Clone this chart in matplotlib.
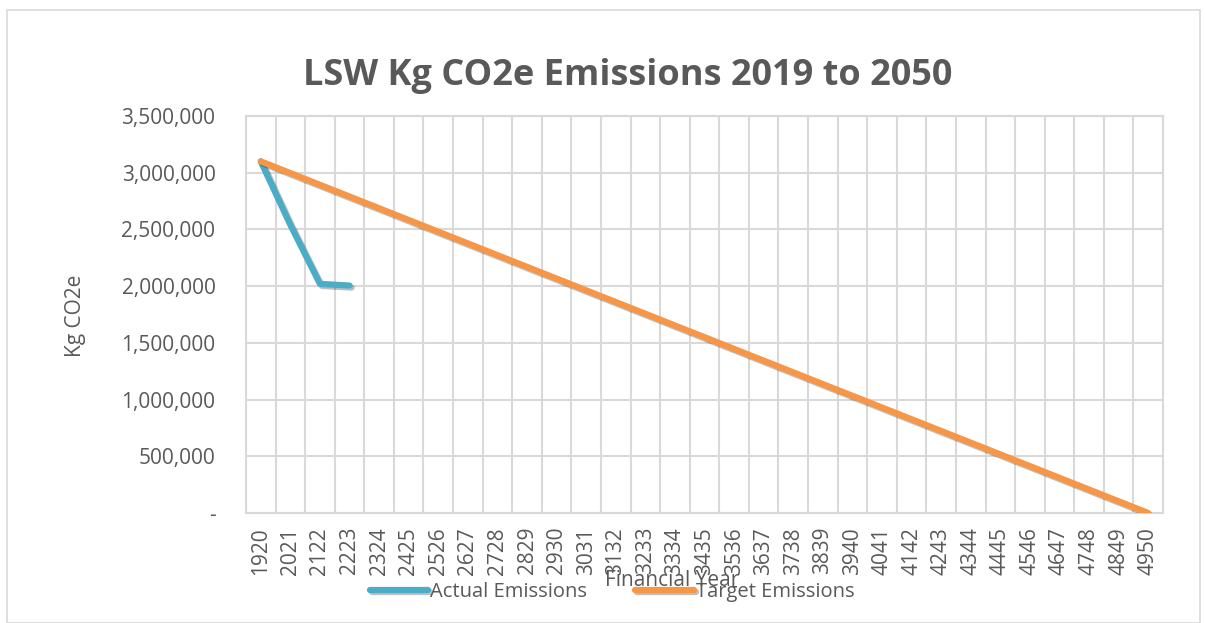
import matplotlib.pyplot as plt
import matplotlib.patheffects as pe
from matplotlib.patches import Rectangle
from matplotlib.ticker import FuncFormatter

plt.rcParams['font.family'] = ['Open Sans', 'DejaVu Sans']

# 数据
years = ['1920', '2021', '2122', '2223', '2324', '2425', '2526', '2627', '2728', '2829',
         '2930', '3031', '3132', '3233', '3334', '3435', '3536', '3637', '3738', '3839',
         '3940', '4041', '4142', '4243', '4344', '4445', '4546', '4647', '4748', '4849', '4950']
actual = [3100000, 2540000, 2020000, 2005000]
target = [3100000, 2996667, 2893333, 2790000, 2686667, 2583333, 2480000, 2376667,
          2273333, 2170000, 2066667, 1963333, 1860000, 1756667, 1653333, 1550000,
          1446667, 1343333, 1240000, 1136667, 1033333, 930000, 826667, 723333,
          620000, 516667, 413333, 310000, 206667, 103333, 0]

TEXT = '#595959'
GRID = '#d9d9d9'
BLUE = '#4bacc6'
ORANGE = '#f79646'

fig = plt.figure(figsize=(12.05, 6.23), dpi=100)
fig.patches.append(Rectangle((7 / 1205, 0), 1193 / 1205, 1 - 10 / 623,
                             transform=fig.transFigure, fill=False,
                             edgecolor=GRID, linewidth=1.2))

ax = fig.add_axes([246 / 1205, 110 / 623, 917 / 1205, 397 / 623])

x = list(range(len(years)))
shadow = [pe.SimpleLineShadow(offset=(1.5, -1.5), alpha=0.25), pe.Normal()]
l1, = ax.plot(x[:len(actual)], actual, color=BLUE, linewidth=4.5,
              solid_capstyle='round', path_effects=shadow, label='Actual Emissions', zorder=3)
l2, = ax.plot(x, target, color=ORANGE, linewidth=4.5,
              solid_capstyle='round', path_effects=shadow, label='Target Emissions', zorder=4)

ax.set_xlim(-0.5, len(years) - 0.5)
ax.set_ylim(0, 3500000)
ax.set_yticks(range(0, 3500001, 500000))
ax.yaxis.set_major_formatter(FuncFormatter(lambda v, p: '-' if v == 0 else f'{int(v):,}'))
ax.set_xticks(x)
ax.set_xticklabels(years, rotation=90)
ax.set_xticks([i - 0.5 for i in range(len(years) + 1)], minor=True)

# 网格线：纵向线在类别边界
ax.grid(True, which='major', axis='y', color=GRID, linewidth=1.5)
ax.grid(True, which='minor', axis='x', color=GRID, linewidth=1.5)
ax.set_axisbelow(True)
for s in ax.spines.values():
    s.set_color(GRID)
    s.set_linewidth(1.5)
ax.tick_params(which='both', length=0, colors=TEXT, labelsize=15)
ax.tick_params(axis='x', pad=10)
ax.tick_params(axis='y', pad=22)

fig.text(628 / 1205, 1 - 76 / 623, 'LSW Kg CO2e Emissions 2019 to 2050',
         ha='center', va='center', fontsize=26, fontweight='bold', color=TEXT)
fig.text(75 / 1205, 1 - 316 / 623, 'Kg CO2e', rotation=90, ha='center', va='center',
         fontsize=15, color=TEXT)
fig.text(672 / 1205, 1 - 580 / 623, 'Financial Year', ha='center', va='center',
         fontsize=15, color=TEXT)

fig.legend(handles=[l1, l2], loc='center', bbox_to_anchor=(612 / 1205, 1 - 592 / 623),
           ncol=2, frameon=False, fontsize=14.5, labelcolor=TEXT, handlelength=2.9,
           handletextpad=0.1, columnspacing=2.4)

fig.savefig('out.png', dpi=100)
plt.close(fig)
